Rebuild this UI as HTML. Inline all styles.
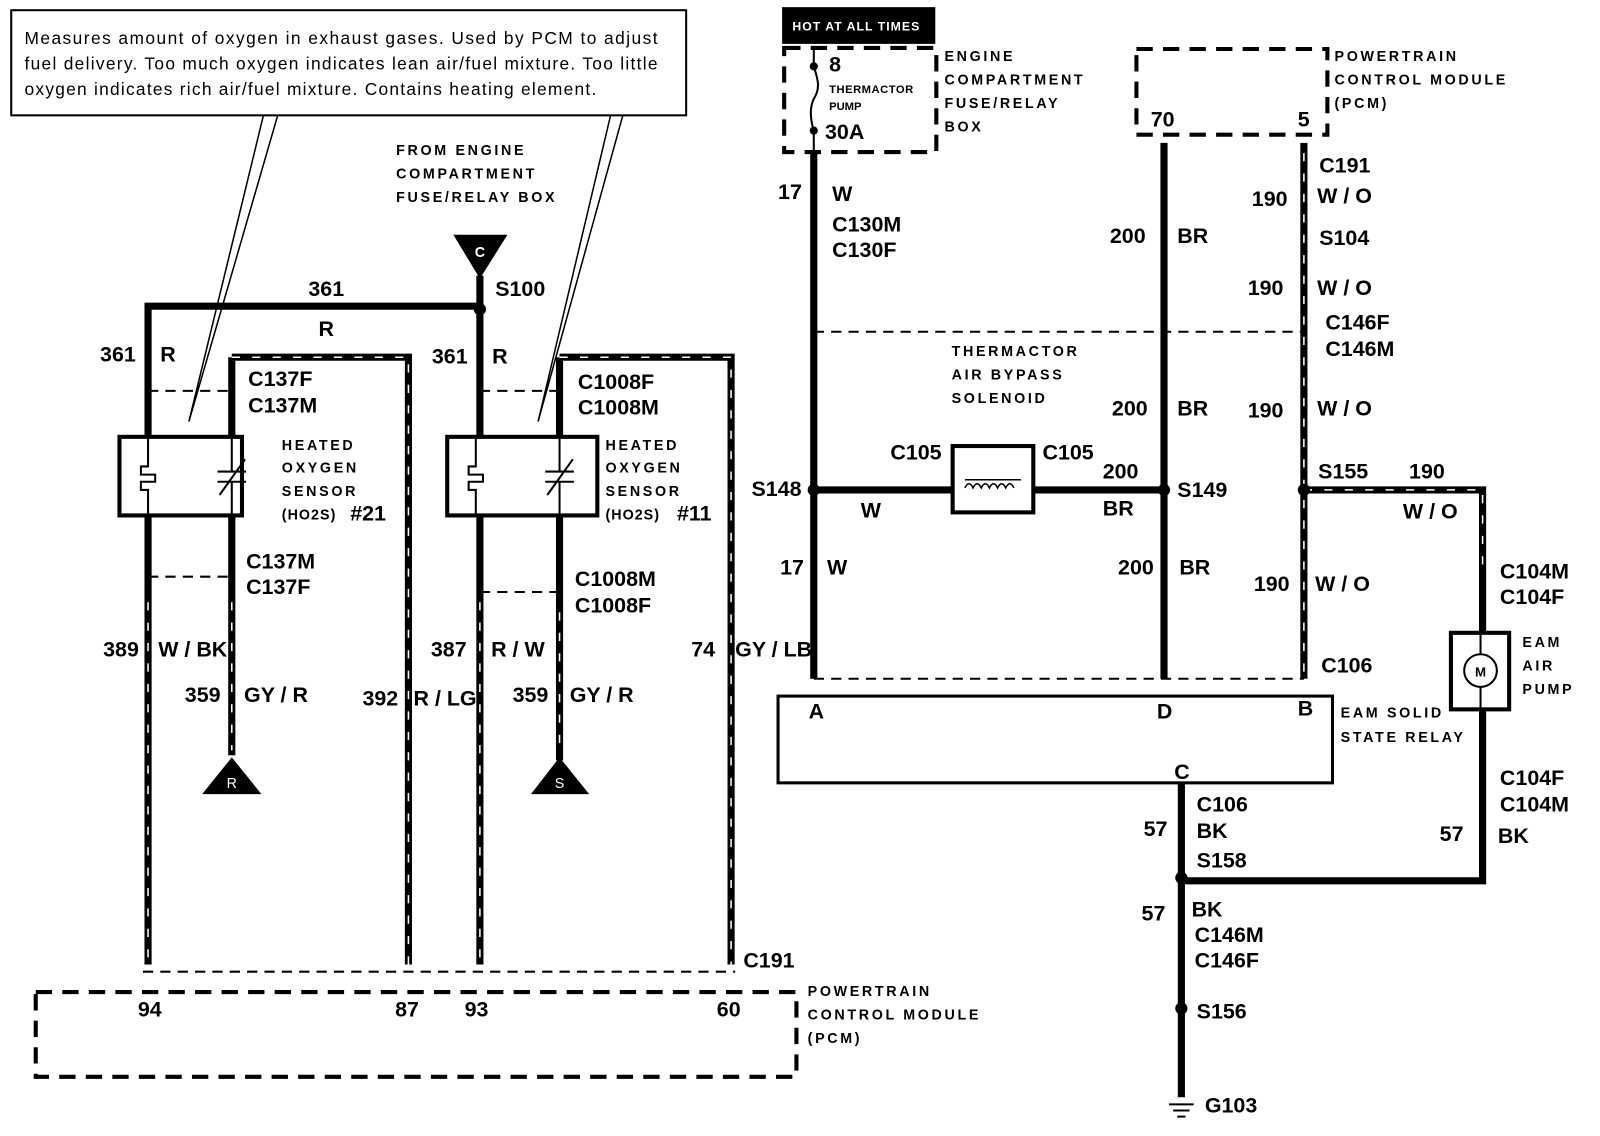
<!DOCTYPE html>
<html><head><meta charset="utf-8"><style>
html,body{margin:0;padding:0;background:#fff;width:1600px;height:1136px;overflow:hidden}
svg{display:block}
.l{font-family:"Liberation Sans",sans-serif;font-weight:bold;font-size:21px;fill:#000}
.s{font-family:"Liberation Sans",sans-serif;font-weight:bold;font-size:14px;fill:#000;letter-spacing:2.6px}
.c{font-family:"Liberation Sans",sans-serif;font-size:17px;fill:#000}
.w{stroke:#000;stroke-width:7;fill:none}
.sh{stroke:#fff;stroke-width:1.5;stroke-dasharray:8 12;fill:none}
.d{stroke:#000;stroke-width:2;stroke-dasharray:10 7;fill:none}
.bd{stroke:#000;stroke-width:4;stroke-dasharray:16 10;fill:none}
</style></head><body>
<svg width="1600" height="1136" viewBox="0 0 1567 1113" preserveAspectRatio="none" xmlns="http://www.w3.org/2000/svg">
<!-- callout -->
<rect x="11" y="10" width="661" height="103" fill="#fff" stroke="#000" stroke-width="2"/>
<text class="c" x="24" y="43" textLength="620" lengthAdjust="spacing">Measures amount of oxygen in exhaust gases. Used by PCM to adjust</text>
<text class="c" x="24" y="68" textLength="620" lengthAdjust="spacing">fuel delivery. Too much oxygen indicates lean air/fuel mixture. Too little</text>
<text class="c" x="24" y="93" textLength="560" lengthAdjust="spacing">oxygen indicates rich air/fuel mixture. Contains heating element.</text>
<polyline points="258,113 185,413 272,113" fill="none" stroke="#000" stroke-width="1.5"/>
<polyline points="598,113 527,413 610,113" fill="none" stroke="#000" stroke-width="1.5"/>

<text class="s" x="388" y="152">FROM ENGINE</text>
<text class="s" x="388" y="175">COMPARTMENT</text>
<text class="s" x="388" y="198">FUSE/RELAY BOX</text>
<polygon points="444,230 497,230 470,273" fill="#000"/>
<text x="470" y="252" font-family="Liberation Sans" font-weight="bold" font-size="14" fill="#fff" text-anchor="middle">C</text>

<!-- left wires -->
<polyline class="w" points="145,945 145,300 470,300"/>
<line class="w" x1="470" y1="270" x2="470" y2="945"/>
<circle cx="470" cy="303" r="6" fill="#000"/>
<line class="w" x1="227" y1="350" x2="227" y2="740"/>
<line class="w" x1="548" y1="350" x2="548" y2="745"/>
<polyline class="w" points="227,350 400,350 400,945"/>
<polyline class="sh" points="227,350 400,350 400,945"/>
<polyline class="w" points="548,350 716,350 716,945"/>
<polyline class="sh" points="548,350 716,350 716,945"/>
<line class="sh" x1="145" y1="590" x2="145" y2="945"/>
<line class="sh" x1="227" y1="590" x2="227" y2="735"/>
<line class="sh" x1="470" y1="590" x2="470" y2="945"/>
<line class="sh" x1="548" y1="600" x2="548" y2="735"/>
<line class="d" x1="145" y1="383" x2="227" y2="383"/>
<line class="d" x1="470" y1="383" x2="548" y2="383"/>
<line class="d" x1="145" y1="565" x2="227" y2="565"/>
<line class="d" x1="470" y1="580" x2="548" y2="580"/>
<line class="d" x1="140" y1="952" x2="720" y2="952"/>
<rect x="117" y="428" width="120" height="77" fill="#fff" stroke="#000" stroke-width="4"/>
<rect x="438" y="428" width="147" height="77" fill="#fff" stroke="#000" stroke-width="4"/>
<g stroke="#000" stroke-width="2" fill="none">
<path d="M145,430 V457 H138 V465 H152 V472 H138 V480 H145 V503"/>
<path d="M227,430 V462 M213,462 H241 M213,472 H241 M227,472 V503 M215,485 L240,450"/>
<path d="M466,430 V457 H459 V465 H473 V472 H459 V480 H466 V503"/>
<path d="M548,430 V462 M534,462 H562 M534,472 H562 M548,472 V503 M536,485 L561,450"/>
</g>
<polygon points="198,778 256,778 227,742" fill="#000"/>
<text x="227" y="772" font-family="Liberation Sans" font-size="14" fill="#fff" text-anchor="middle">R</text>
<polygon points="520,778 577,778 548,742" fill="#000"/>
<text x="548" y="772" font-family="Liberation Sans" font-size="14" fill="#fff" text-anchor="middle">S</text>
<rect x="35" y="972" width="745" height="83" class="bd"/>

<g class="l">
<text x="302" y="290">361</text><text x="485" y="290">S100</text><text x="312" y="329">R</text>
<text x="98" y="354">361</text><text x="157" y="354">R</text>
<text x="423" y="356">361</text><text x="482" y="356">R</text>
<text x="243" y="378">C137F</text><text x="243" y="404">C137M</text>
<text x="566" y="381">C1008F</text><text x="566" y="406">C1008M</text>
<text x="343" y="510">#21</text><text x="663" y="510">#11</text>
<text x="241" y="557">C137M</text><text x="241" y="582">C137F</text>
<text x="563" y="574">C1008M</text><text x="563" y="600">C1008F</text>
<text x="101" y="643">389</text><text x="155" y="643">W / BK</text>
<text x="422" y="643">387</text><text x="481" y="643">R / W</text>
<text x="677" y="643">74</text><text x="720" y="643">GY / LB</text>
<text x="181" y="688">359</text><text x="239" y="688">GY / R</text>
<text x="502" y="688">359</text><text x="558" y="688">GY / R</text>
<text x="355" y="691">392</text><text x="405" y="691">R / LG</text>
<text x="728" y="948">C191</text>
<text x="135" y="996">94</text><text x="387" y="996">87</text><text x="455" y="996">93</text><text x="702" y="996">60</text>
</g>
<g class="s">
<text x="276" y="441">HEATED</text><text x="276" y="463">OXYGEN</text><text x="276" y="486">SENSOR</text><text x="276" y="509" letter-spacing="1">(HO2S)</text>
<text x="593" y="441">HEATED</text><text x="593" y="463">OXYGEN</text><text x="593" y="486">SENSOR</text><text x="593" y="509" letter-spacing="1">(HO2S)</text>
<text x="791" y="976">POWERTRAIN</text><text x="791" y="999">CONTROL MODULE</text><text x="791" y="1022">(PCM)</text>
</g>

<!-- right section -->
<rect x="766" y="7" width="150" height="36" fill="#000"/>
<text x="776" y="30" font-family="Liberation Sans" font-weight="bold" font-size="12" fill="#fff" letter-spacing="1">HOT AT ALL TIMES</text>
<rect x="768" y="47" width="149" height="102" class="bd"/>
<path d="M797,45 V65 C800,75 804,85 798,95 C792,105 794,118 797,128 V150" stroke="#000" stroke-width="2" fill="none"/>
<circle cx="797" cy="65" r="4" fill="#000"/><circle cx="797" cy="128" r="4" fill="#000"/>
<text class="l" x="812" y="70">8</text>
<text x="812" y="91" font-family="Liberation Sans" font-weight="bold" font-size="11" letter-spacing="0.5">THERMACTOR</text>
<text x="812" y="108" font-family="Liberation Sans" font-weight="bold" font-size="11">PUMP</text>
<text class="l" x="808" y="136">30A</text>
<g class="s"><text x="925" y="60">ENGINE</text><text x="925" y="83">COMPARTMENT</text><text x="925" y="106">FUSE/RELAY</text><text x="925" y="129">BOX</text>
<text x="1307" y="60">POWERTRAIN</text><text x="1307" y="83">CONTROL MODULE</text><text x="1307" y="106">(PCM)</text>
<text x="932" y="349">THERMACTOR</text><text x="932" y="372">AIR BYPASS</text><text x="932" y="395">SOLENOID</text>
<text x="1313" y="703">EAM SOLID</text><text x="1313" y="727">STATE RELAY</text>
<text x="1491" y="634">EAM</text><text x="1491" y="657">AIR</text><text x="1491" y="680">PUMP</text>
</g>
<rect x="1113" y="48" width="187" height="84" class="bd"/>
<line class="w" x1="797" y1="150" x2="797" y2="665"/>
<line class="w" x1="1140" y1="140" x2="1140" y2="665"/>
<line class="w" x1="1277" y1="140" x2="1277" y2="665"/>
<line class="sh" x1="1277" y1="150" x2="1277" y2="660"/>
<line class="d" x1="797" y1="325" x2="1277" y2="325"/>
<line class="d" x1="797" y1="665" x2="1277" y2="665"/>
<line class="w" x1="797" y1="480" x2="932" y2="480"/>
<line class="w" x1="1012" y1="480" x2="1140" y2="480"/>
<rect x="933" y="437" width="79" height="65" fill="#fff" stroke="#000" stroke-width="4"/>
<path d="M945,470 H1000 M945,478 q4,-8 8,0 q4,-8 8,0 q4,-8 8,0 q4,-8 8,0 q4,-8 8,0 q4,-8 8,0" stroke="#000" stroke-width="1.5" fill="none"/>
<polyline class="w" points="1277,480 1452,480 1452,620"/>
<polyline class="sh" points="1277,480 1452,480 1452,560"/>
<rect x="1421" y="620" width="57" height="75" fill="#fff" stroke="#000" stroke-width="4"/>
<line x1="1450" y1="622" x2="1450" y2="693" stroke="#000" stroke-width="2"/>
<circle cx="1450" cy="657" r="16" fill="#fff" stroke="#000" stroke-width="2"/>
<text x="1450" y="663" font-family="Liberation Sans" font-weight="bold" font-size="13" text-anchor="middle">M</text>
<polyline class="w" points="1452,695 1452,863 1157,863"/>
<rect x="762" y="682" width="543" height="85" fill="#fff" stroke="#000" stroke-width="3"/>
<line class="w" x1="1157" y1="767" x2="1157" y2="1075"/>
<circle cx="797" cy="480" r="6" fill="#000"/><circle cx="1140" cy="480" r="6" fill="#000"/><circle cx="1277" cy="480" r="6" fill="#000"/>
<circle cx="1157" cy="860" r="6" fill="#000"/><circle cx="1157" cy="988" r="6" fill="#000"/>
<g stroke="#000" stroke-width="2"><line x1="1145" y1="1082" x2="1169" y2="1082"/><line x1="1149" y1="1088" x2="1165" y2="1088"/><line x1="1153" y1="1094" x2="1161" y2="1094"/></g>
<g class="l">
<text x="762" y="195">17</text><text x="815" y="197">W</text>
<text x="815" y="227">C130M</text><text x="815" y="252">C130F</text>
<text x="1127" y="124">70</text><text x="1271" y="124">5</text>
<text x="1292" y="169">C191</text><text x="1226" y="202">190</text><text x="1290" y="199">W / O</text>
<text x="1087" y="238">200</text><text x="1153" y="238">BR</text><text x="1292" y="240">S104</text>
<text x="1222" y="289">190</text><text x="1290" y="289">W / O</text>
<text x="1298" y="323">C146F</text><text x="1298" y="349">C146M</text>
<text x="1089" y="407">200</text><text x="1153" y="407">BR</text><text x="1222" y="409">190</text><text x="1290" y="407">W / O</text>
<text x="872" y="450">C105</text><text x="1021" y="450">C105</text>
<text x="736" y="486">S148</text><text x="1080" y="469">200</text><text x="1153" y="487">S149</text>
<text x="1291" y="469">S155</text><text x="1380" y="469">190</text>
<text x="843" y="507">W</text><text x="1080" y="505">BR</text><text x="1374" y="508">W / O</text>
<text x="764" y="563">17</text><text x="810" y="563">W</text>
<text x="1095" y="563">200</text><text x="1155" y="563">BR</text>
<text x="1228" y="579">190</text><text x="1288" y="579">W / O</text>
<text x="1469" y="567">C104M</text><text x="1469" y="592">C104F</text>
<text x="1294" y="659">C106</text>
<text x="792" y="704">A</text><text x="1133" y="704">D</text><text x="1271" y="701">B</text><text x="1150" y="763">C</text>
<text x="1469" y="769">C104F</text><text x="1469" y="795">C104M</text>
<text x="1172" y="795">C106</text><text x="1172" y="821">BK</text>
<text x="1120" y="819">57</text><text x="1410" y="824">57</text><text x="1467" y="826">BK</text>
<text x="1172" y="850">S158</text>
<text x="1118" y="902">57</text><text x="1167" y="898">BK</text>
<text x="1170" y="923">C146M</text><text x="1170" y="948">C146F</text>
<text x="1172" y="998">S156</text><text x="1180" y="1090">G103</text>
</g>
</svg>
</body></html>
